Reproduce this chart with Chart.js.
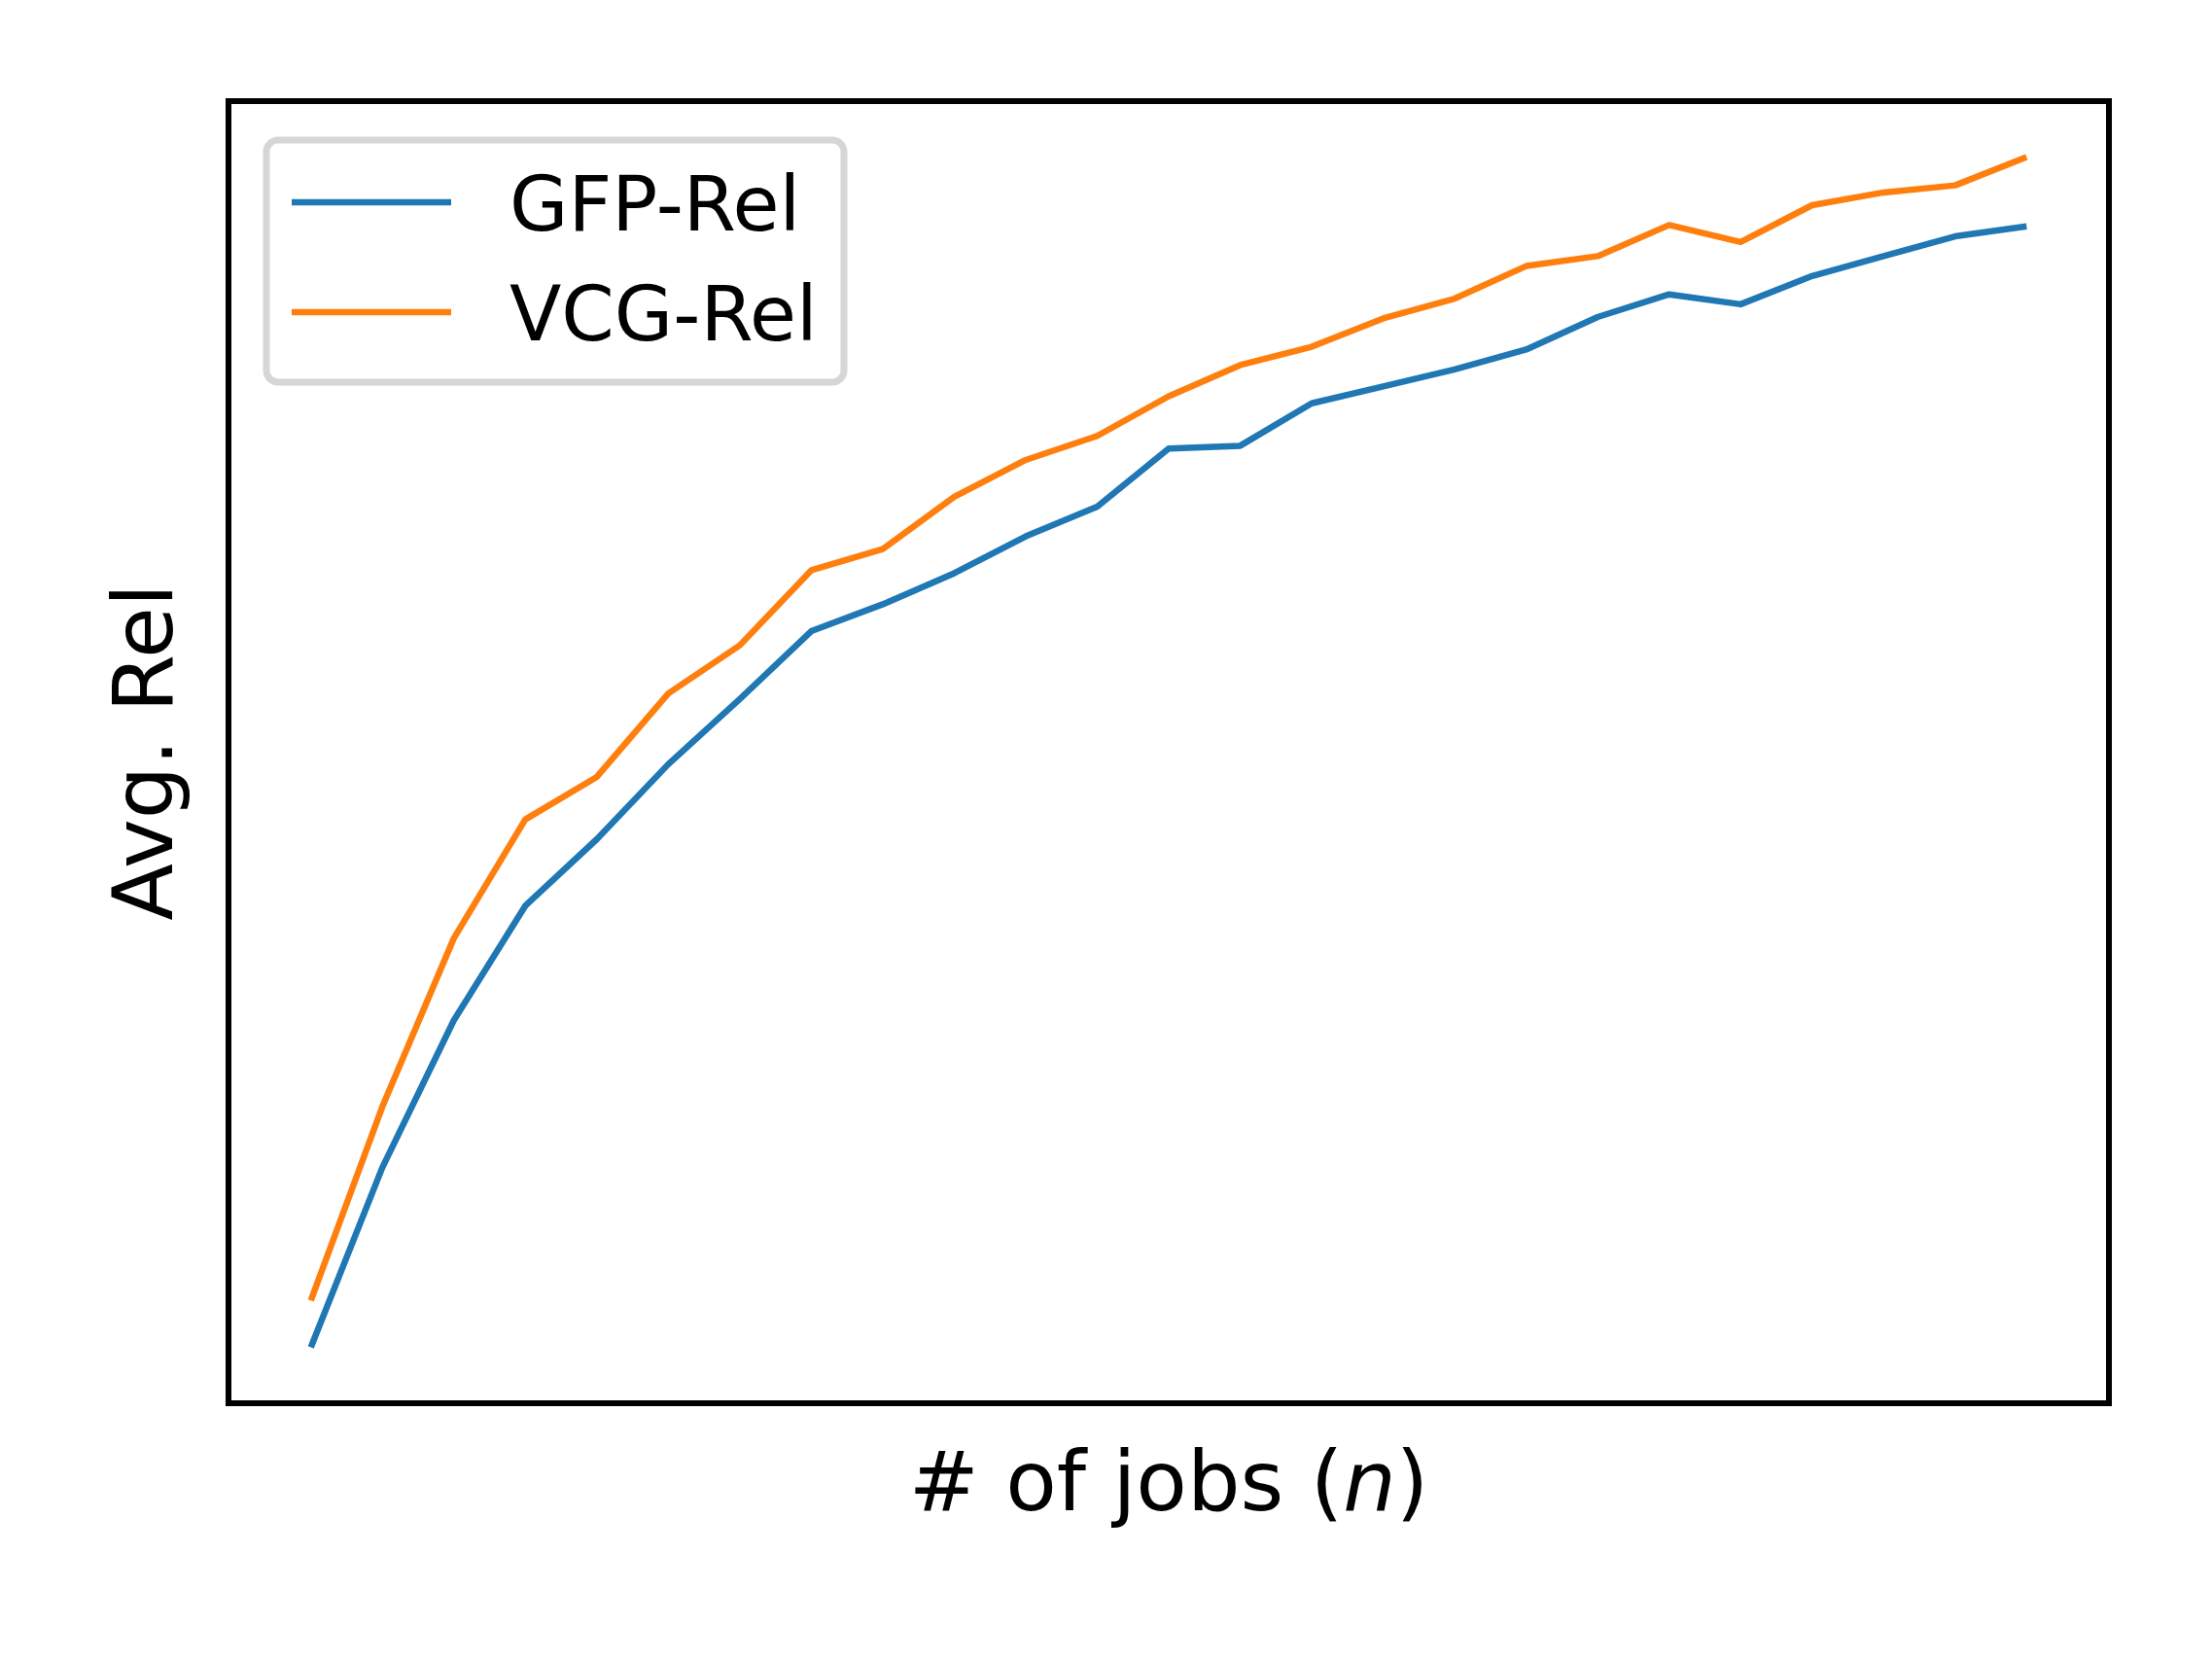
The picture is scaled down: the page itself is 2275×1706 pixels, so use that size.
<!DOCTYPE html>
<html>
<head>
<meta charset="utf-8">
<script src="https://cdn.jsdelivr.net/npm/chart.js@4"></script>
<style>
  html, body { margin: 0; padding: 0; background: #ffffff; }
  canvas { display: block; }
</style>
</head>
<body>
<canvas id="graph" width="2275" height="1706"></canvas>
<script>
// number of jobs (no tick labels shown in the figure)
const jobs = [1, 2, 3, 4, 5, 6, 7, 8, 9, 10, 11, 12, 13, 14, 15, 16, 17, 18, 19, 20, 21, 22, 23, 24, 25];
const gfpRel = [39, 166, 270, 351, 398, 451, 497, 545, 564, 586, 612, 633, 674, 676, 706, 718, 730, 744, 767, 783, 776, 796, 810, 824, 831];
const vcgRel = [72, 209, 328, 412, 442, 501, 535, 588, 603, 640, 666, 683, 711, 733, 746, 766, 780, 803, 810, 832, 820, 846, 855, 860, 880];
const seriesNames = ["GFP-Rel", "VCG-Rel"];
const seriesColors = ["#1f77b4", "#ff7f0e"];

const FONT = '"DejaVu Sans", Verdana, sans-serif';

// matplotlib-like margins around the data
const xMin = jobs[0], xMax = jobs[jobs.length - 1];
const allY = gfpRel.concat(vcgRel);
const yMin = Math.min(...allY), yMax = Math.max(...allY);
const xPad = (xMax - xMin) * 0.048, yPad = (yMax - yMin) * 0.047;

const toPoints = (vals) => vals.map((v, i) => ({ x: jobs[i], y: v }));

const framePlugin = {
  id: "frame",
  afterDraw(chart) {
    const ctx = chart.ctx;
    const a = chart.chartArea;
    ctx.save();

    // axes box
    ctx.strokeStyle = "#000000";
    ctx.lineWidth = 6;
    ctx.strokeRect(a.left, a.top, a.right - a.left, a.bottom - a.top);

    // legend box
    const bx = 274, by = 144, bw = 594, bh = 249, r = 12;
    ctx.beginPath();
    ctx.roundRect(bx, by, bw, bh, r);
    ctx.fillStyle = "#ffffff";
    ctx.fill();
    ctx.lineWidth = 7;
    ctx.strokeStyle = "#d6d6d6";
    ctx.stroke();

    const rows = [208, 321];
    chart.data.datasets.forEach((ds, i) => {
      ctx.beginPath();
      ctx.moveTo(300, rows[i]);
      ctx.lineTo(464, rows[i]);
      ctx.strokeStyle = ds.borderColor;
      ctx.lineWidth = 6.5;
      ctx.lineCap = "butt";
      ctx.stroke();
      ctx.fillStyle = "#000000";
      ctx.font = "78px " + FONT;
      ctx.textAlign = "left";
      ctx.textBaseline = "alphabetic";
      ctx.fillText(ds.label, 524, rows[i] + 29);
    });

    // x axis label with italic n
    ctx.font = "86px " + FONT;
    const p1 = "# of jobs (", p2 = "n", p3 = ")";
    const w1 = ctx.measureText(p1).width;
    const w3 = ctx.measureText(p3).width;
    ctx.font = "italic 86px " + FONT;
    const w2 = ctx.measureText(p2).width;
    const cx = (a.left + a.right) / 2;
    let x0 = cx - (w1 + w2 + w3) / 2;
    const base = 1553;
    ctx.textAlign = "left";
    ctx.font = "86px " + FONT;
    ctx.fillText(p1, x0, base);
    ctx.font = "italic 86px " + FONT;
    ctx.fillText(p2, x0 + w1, base);
    ctx.font = "86px " + FONT;
    ctx.fillText(p3, x0 + w1 + w2, base);

    // y axis label
    ctx.translate(177, (a.top + a.bottom) / 2);
    ctx.rotate(-Math.PI / 2);
    ctx.textAlign = "center";
    ctx.fillText("Avg. Rel", 0, 0);

    ctx.restore();
  },
};

const lineStyle = {
  borderWidth: 6.5,
  pointRadius: 0,
  tension: 0,
  borderCapStyle: "butt",
  borderJoinStyle: "round",
};

const config = {
  type: "line",
  data: {
    datasets: [
      { label: seriesNames[0], data: toPoints(gfpRel), borderColor: seriesColors[0], ...lineStyle },
      { label: seriesNames[1], data: toPoints(vcgRel), borderColor: seriesColors[1], ...lineStyle },
    ],
  },
  options: {
    responsive: false,
    animation: false,
    devicePixelRatio: 1,
    layout: {
      padding: { left: 235, right: 2275 - 2169, top: 104, bottom: 1706 - 1443 },
    },
    scales: {
      x: { type: "linear", display: false, min: xMin - xPad, max: xMax + xPad },
      y: { type: "linear", display: false, min: yMin - yPad, max: yMax + yPad },
    },
    plugins: {
      legend: { display: false },
      tooltip: { enabled: false },
    },
  },
  plugins: [framePlugin],
};

new Chart(document.getElementById("graph"), config);
</script>
</body>
</html>
